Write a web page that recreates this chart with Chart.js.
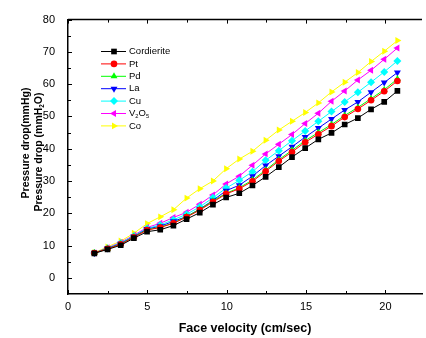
<!DOCTYPE html>
<html>
<head>
<meta charset="utf-8">
<script src="https://cdn.jsdelivr.net/npm/chart.js@4"></script>
<style>
  body { margin: 0; background: #fff; }
  canvas { display: block; }
</style>
</head>
<body>
<canvas id="dpChart" width="426" height="338"></canvas>
<script>
//-----------------------------------------------------
// Pressure drop vs face velocity
//-----------------------------------------------------

const velocity = [1.66, 2.49, 3.32, 4.15, 4.98, 5.81, 6.64, 7.47, 8.30, 9.13, 9.96, 10.79,
                  11.62, 12.45, 13.28, 14.11, 14.94, 15.77, 16.60, 17.43, 18.26, 19.09, 19.92, 20.75];

const cordierite = [7.6, 8.8, 10.1, 12.3, 14.3, 14.9, 16.2, 18.2, 20.2, 22.7, 24.9, 26.2,
                    28.6, 31.3, 34.3, 37.4, 40.2, 42.9, 44.9, 47.5, 49.5, 52.2, 54.5, 57.9];
const pt = [7.7, 9.0, 10.4, 12.6, 14.8, 15.6, 16.9, 18.8, 21.0, 23.5, 26.0, 27.6,
            29.9, 33.0, 36.2, 39.0, 42.0, 44.5, 47.0, 49.8, 52.3, 55.0, 57.8, 61.0];
const pd = [7.7, 9.0, 10.5, 12.7, 14.9, 15.7, 17.0, 19.0, 21.2, 23.8, 26.2, 27.9,
            30.3, 33.4, 36.6, 39.5, 42.5, 45.0, 47.5, 50.3, 52.8, 55.5, 58.3, 61.6];
const la = [7.7, 9.1, 10.6, 12.8, 15.1, 16.0, 17.5, 19.0, 21.3, 24.0, 27.0, 28.7,
            31.5, 34.8, 37.7, 40.6, 43.6, 46.4, 49.2, 52.0, 54.5, 57.5, 60.5, 63.6];
const cu = [7.7, 9.2, 10.8, 13.0, 15.3, 16.4, 18.0, 19.7, 22.0, 24.8, 27.8, 30.2,
            32.9, 36.4, 39.4, 42.5, 45.5, 48.5, 51.5, 54.5, 57.5, 60.6, 63.8, 67.2];
const v2o5 = [7.7, 9.3, 11.0, 13.2, 15.6, 16.9, 18.7, 20.3, 22.8, 25.7, 29.1, 31.5,
              34.9, 38.4, 41.4, 44.4, 47.8, 51.0, 54.7, 57.9, 61.3, 64.3, 67.7, 71.2];
const co = [7.8, 9.6, 11.4, 13.8, 16.8, 18.9, 21.1, 24.7, 27.6, 30.0, 33.8, 36.8,
            39.2, 42.6, 45.8, 48.5, 51.2, 54.2, 57.6, 60.6, 63.6, 67.0, 70.2, 73.5];

const xMajor = [0, 5, 10, 15, 20];
const xMinor = [2.5, 7.5, 12.5, 17.5];
const yMajor = [0, 10, 20, 30, 40, 50, 60, 70, 80];
const yMinor = [5, 15, 25, 35, 45, 55, 65, 75];

// name, [main, subscript, main, subscript...] for the legend, colour, marker
const series = [
    { label: "Cordierite", parts: ["Cordierite"], data: cordierite, color: "#000000", style: "rect", rot: 0 },
    { label: "Pt", parts: ["Pt"], data: pt, color: "#ff0000", style: "circle", rot: 0 },
    { label: "Pd", parts: ["Pd"], data: pd, color: "#00ff00", style: "triangle", rot: 0 },
    { label: "La", parts: ["La"], data: la, color: "#0000ff", style: "triangle", rot: 180 },
    { label: "Cu", parts: ["Cu"], data: cu, color: "#00ffff", style: "rectRot", rot: 0 },
    { label: "V2O5", parts: ["V", "2", "O", "5"], data: v2o5, color: "#ff00ff", style: "triangle", rot: 270 },
    { label: "Co", parts: ["Co"], data: co, color: "#ffff00", style: "triangle", rot: 90 }
];

const datasets = series.map(s => ({
    label: s.label,
    data: velocity.map((v, i) => ({ x: v, y: s.data[i] })),
    borderColor: s.color,
    backgroundColor: s.color,
    borderWidth: 1,
    pointStyle: s.style,
    pointRotation: s.rot,
    pointRadius: s.style === "circle" ? 3.3 : 4,
    pointBorderWidth: 0,
    tension: 0
}));

// draws text with subscripts, parts alternate normal / subscript
function drawSubText(ctx, parts, x, y, size, bold) {
    const w = bold ? "bold " : "";
    let cx = x;
    parts.forEach((p, i) => {
        const sub = i % 2 === 1;
        ctx.font = w + (sub ? size * 0.6 : size) + "px 'Liberation Sans', Arial, sans-serif";
        ctx.fillText(p, cx, sub ? y + size * 0.3 : y);
        cx += ctx.measureText(p).width;
    });
}
function measureSubText(ctx, parts, size, bold) {
    const w = bold ? "bold " : "";
    let total = 0;
    parts.forEach((p, i) => {
        const sub = i % 2 === 1;
        ctx.font = w + (sub ? size * 0.6 : size) + "px 'Liberation Sans', Arial, sans-serif";
        total += ctx.measureText(p).width;
    });
    return total;
}

const decorations = {
    id: "decorations",
    afterDraw(chart) {
        const ctx = chart.ctx;
        const a = chart.chartArea;
        const xs = chart.scales.x;
        const ys = chart.scales.y;
        ctx.save();
        ctx.strokeStyle = "#000";
        ctx.lineWidth = 1.5;

        // top frame line
        ctx.beginPath();
        ctx.moveTo(a.left, a.top);
        ctx.lineTo(a.right, a.top);
        ctx.stroke();

        // inward ticks
        ctx.lineWidth = 1;
        const xt = (v, len) => {
            const px = Math.round(xs.getPixelForValue(v)) + 0.5;
            ctx.beginPath();
            ctx.moveTo(px, a.bottom); ctx.lineTo(px, a.bottom - len);
            ctx.moveTo(px, a.top); ctx.lineTo(px, a.top + len);
            ctx.stroke();
        };
        const yt = (v, len) => {
            const py = Math.round(ys.getPixelForValue(v)) + 0.5;
            ctx.beginPath();
            ctx.moveTo(a.left, py); ctx.lineTo(a.left + len, py);
            ctx.stroke();
        };
        xMajor.forEach(v => xt(v, 4));
        xMinor.forEach(v => xt(v, 3));
        yMajor.forEach(v => yt(v, 4));
        yMinor.forEach(v => yt(v, 3));

        // legend
        ctx.textAlign = "left";
        ctx.textBaseline = "middle";
        series.forEach((s, i) => {
            const ly = 51.5 + i * 12.4;
            ctx.strokeStyle = s.color;
            ctx.lineWidth = 1;
            ctx.beginPath();
            ctx.moveTo(101, ly); ctx.lineTo(126, ly);
            ctx.stroke();
            ctx.fillStyle = s.color;
            Chart.helpers.drawPoint(ctx, {
                pointStyle: s.style,
                rotation: s.rot,
                radius: s.style === "circle" ? 3.3 : 4,
                borderWidth: 0
            }, 114, ly);
            ctx.fillStyle = "#000";
            drawSubText(ctx, s.parts, 129, ly, 9.5, false);
        });

        // y axis titles (two lines)
        ctx.fillStyle = "#000";
        ctx.textBaseline = "middle";
        const line1 = ["Pressure drop(mmHg)"];
        const line2 = ["Pressure drop (mmH", "2", "O)"];
        [[line1, 26, 143], [line2, 39, 152]].forEach(([parts, x, cy]) => {
            ctx.save();
            ctx.translate(x, cy);
            ctx.rotate(-Math.PI / 2);
            const w = measureSubText(ctx, parts, 10.5, true);
            drawSubText(ctx, parts, -w / 2, 0, 10.5, true);
            ctx.restore();
        });

        // x axis title
        ctx.textAlign = "center";
        ctx.font = "bold 12.5px 'Liberation Sans', Arial, sans-serif";
        ctx.fillText("Face velocity (cm/sec)", (a.left + a.right) / 2, 329);
        ctx.restore();
    }
};

new Chart(document.getElementById("dpChart").getContext("2d"), {
    type: "line",
    data: { datasets },
    options: {
        responsive: false,
        animation: false,
        layout: { padding: { top: 14, right: 0, bottom: 0, left: 0 } },
        plugins: {
            legend: { display: false },
            tooltip: { enabled: false }
        },
        scales: {
            x: {
                type: "linear",
                min: 0,
                max: 22.3,
                grid: { display: false, drawTicks: false },
                border: { display: true, color: "#000", width: 1.5 },
                ticks: {
                    padding: 6,
                    color: "#000",
                    font: { family: "'Liberation Sans', Arial, sans-serif", size: 11 }
                },
                afterBuildTicks: scale => { scale.ticks = xMajor.map(v => ({ value: v })); },
                afterFit: scale => { scale.height = 44; }
            },
            y: {
                type: "linear",
                min: -5,
                max: 80,
                grid: { display: false, drawTicks: false },
                border: { display: true, color: "#000", width: 1.5 },
                ticks: {
                    padding: 13,
                    color: "#000",
                    font: { family: "'Liberation Sans', Arial, sans-serif", size: 11 }
                },
                afterBuildTicks: scale => { scale.ticks = yMajor.map(v => ({ value: v })); },
                afterFit: scale => { scale.width = 68; }
            }
        }
    },
    plugins: [decorations]
});
</script>
</body>
</html>
